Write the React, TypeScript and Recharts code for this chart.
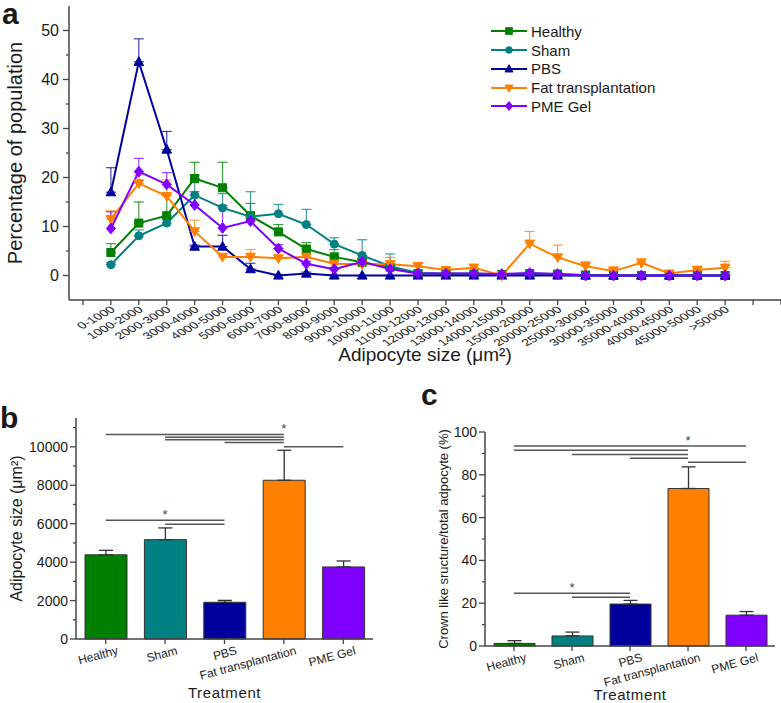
import {
  LineChart,
  Line,
  XAxis,
  YAxis,
  ErrorBar,
  Legend,
  BarChart,
  Bar,
  Cell,
  ReferenceLine,
  ReferenceDot,
  Label,
} from "recharts";

const FONT = "Arial, 'Liberation Sans', sans-serif";
const INK = "#1a1a1a";
const AXIS = "#444";

// panel a: size distribution (percentage of population per size bin)
const sizeBins = [
  "0-1000", "1000-2000", "2000-3000", "3000-4000", "4000-5000", "5000-6000",
  "6000-7000", "7000-8000", "8000-9000", "9000-10000", "10000-11000", "11000-12000",
  "12000-13000", "13000-14000", "14000-15000", "15000-20000", "20000-25000",
  "25000-30000", "30000-35000", "35000-40000", "40000-45000", "45000-50000", ">50000",
];
const healthyPct = [4.7, 10.7, 12.2, 19.8, 17.9, 12.2, 8.9, 5.4, 3.8, 2.7, 1.7, 0.4, 0.3, 0.3, 0.2, 0.4, 0.3, 0.1, 0, 0, 0, 0, 0];
const healthyErr = [1.8, 4.3, 4.2, 3.3, 5.2, 2.5, 1.5, 1.3, 1.5, 0.8, 0.5, 0.3, 0.2, 0.2, 0.2, 0.2, 0.2, 0, 0, 0, 0, 0, 0];
const shamPct = [2.2, 8.1, 10.7, 16.4, 13.8, 12.0, 12.6, 10.4, 6.4, 4.1, 1.9, 0.5, 0.4, 0.4, 0.2, 0.3, 0.1, 0, 0, 0, 0, 0, 0];
const shamErr = [0.4, 1.2, 1.0, 4.1, 2.9, 5.1, 1.9, 3.1, 1.3, 3.2, 2.5, 0.4, 0.3, 0.3, 0.2, 0.2, 0.2, 0, 0, 0, 0, 0, 0];
const pbsPct = [17.0, 43.6, 25.7, 5.9, 5.9, 1.3, 0, 0.4, 0, 0, 0, 0, 0, 0, 0, 0, 0, 0, 0, 0, 0, 0, 0];
const pbsErr = [5.0, 4.7, 3.7, 0.3, 2.3, 1.2, 0.2, 0.3, 0, 0, 0, 0, 0, 0, 0, 0, 0, 0, 0, 0, 0, 0, 0];
const fatPct = [11.5, 18.8, 16.2, 9.0, 3.8, 3.8, 3.5, 3.8, 2.4, 2.3, 2.3, 1.9, 1.1, 1.6, 0, 6.5, 3.7, 1.9, 0.9, 2.6, 0.4, 1.1, 1.6];
const fatErr = [1.7, 1.7, 3.3, 2.3, 0.5, 1.5, 0.6, 0.5, 0.5, 1.0, 1.4, 0.6, 0.5, 0.6, 0, 2.5, 2.5, 0.9, 0.9, 0.8, 0.3, 0.8, 1.3];
const pmePct = [9.6, 21.2, 18.6, 14.4, 9.7, 11.1, 5.5, 2.4, 1.3, 2.8, 1.3, 0.4, 0.4, 0.4, 0.3, 0.5, 0.3, 0, 0, 0, 0, 0, 0];
const pmeErr = [3.4, 2.7, 2.4, 2.7, 4.6, 0.5, 0.8, 0.5, 0.3, 0.5, 0.4, 0.2, 0.2, 0.2, 0.2, 0.2, 0.2, 0, 0, 0, 0, 0, 0];

// panels b and c
const treatments = ["Healthy", "Sham", "PBS", "Fat transplantation", "PME Gel"];
const sizeMean = [4380, 5170, 1910, 8260, 3750];
const sizeSem = [235, 610, 100, 1560, 310];
const crownMean = [1.2, 4.7, 19.6, 73.6, 14.4];
const crownSem = [1.3, 1.8, 1.7, 10.1, 1.7];

const sizeSig = [
  { from: "Healthy", to: "Fat transplantation", y: 10640 },
  { from: "Sham", to: "Fat transplantation", y: 10500 },
  { from: "Sham", to: "Fat transplantation", y: 10370 },
  { from: "PBS", to: "Fat transplantation", y: 10230 },
  { from: "Fat transplantation", to: "PME Gel", y: 10000 },
  { from: "Healthy", to: "PBS", y: 6180 },
  { from: "Sham", to: "PBS", y: 5970 },
];
const sizeStars = [
  { x: "Fat transplantation", y: 10950 },
  { x: "Sham", y: 6500 },
];
const crownSig = [
  { from: "Healthy", to: "PME Gel", y: 93.4 },
  { from: "Healthy", to: "Fat transplantation", y: 91.5 },
  { from: "Sham", to: "Fat transplantation", y: 89.5 },
  { from: "PBS", to: "Fat transplantation", y: 87.7 },
  { from: "Fat transplantation", to: "PME Gel", y: 85.9 },
  { from: "Healthy", to: "PBS", y: 24.7 },
  { from: "Sham", to: "PBS", y: 22.8 },
];
const crownStars = [
  { x: "Fat transplantation", y: 96.3 },
  { x: "Sham", y: 27.2 },
];

const barColors = ["#008000", "#008080", "#00009c", "#ff8000", "#8000ff"];

const SERIES = [
  { key: "healthy", name: "Healthy", color: "#008000", shape: "square", values: healthyPct, errs: healthyErr },
  { key: "sham", name: "Sham", color: "#008080", shape: "circle", values: shamPct, errs: shamErr },
  { key: "pbs", name: "PBS", color: "#00009c", shape: "up", values: pbsPct, errs: pbsErr },
  { key: "fat", name: "Fat transplantation", color: "#ff8000", shape: "down", values: fatPct, errs: fatErr },
  { key: "pme", name: "PME Gel", color: "#8000ff", shape: "diamond", values: pmePct, errs: pmeErr },
];

const distRows = sizeBins.map((bin, i) => {
  const row: Record<string, any> = { pos: i + 1, bin };
  SERIES.forEach((s) => {
    row[s.key] = s.values[i];
    row[s.key + "Err"] = [0, s.errs[i]];
  });
  return row;
});

const sizeRows = treatments.map((name, i) => ({ name, value: sizeMean[i], err: [0, sizeSem[i]] }));
const crownRows = treatments.map((name, i) => ({ name, value: crownMean[i], err: [0, crownSem[i]] }));

function marker(shape: string, cx: number, cy: number, color: string, r: number, key?: any) {
  const c = { fill: color, stroke: color, strokeWidth: 1 };
  if (cx == null || cy == null) return <g key={key} />;
  switch (shape) {
    case "square":
      return <rect key={key} x={cx - r} y={cy - r} width={2 * r} height={2 * r} {...c} />;
    case "circle":
      return <circle key={key} cx={cx} cy={cy} r={r} {...c} />;
    case "up":
      return <polygon key={key} points={`${cx},${cy - r * 1.3} ${cx - r * 1.2},${cy + r * 0.9} ${cx + r * 1.2},${cy + r * 0.9}`} {...c} />;
    case "down":
      return <polygon key={key} points={`${cx},${cy + r * 1.3} ${cx - r * 1.2},${cy - r * 0.9} ${cx + r * 1.2},${cy - r * 0.9}`} {...c} />;
    default:
      return <polygon key={key} points={`${cx},${cy - r * 1.35} ${cx + r * 1.1},${cy} ${cx},${cy + r * 1.35} ${cx - r * 1.1},${cy}`} {...c} />;
  }
}

// y ticks with short minor marks, labels only on every `every`
const yTick = (every: number, fontSize: number, gap: number) => (props: any) => {
  const { x, y, payload } = props;
  const major = payload.value % every === 0;
  return (
    <g>
      <line x1={x - (major ? 6 : 3)} x2={x} y1={y} y2={y} stroke={AXIS} strokeWidth={1.3} />
      {major && (
        <text x={x - gap} y={y} dy="0.36em" textAnchor="end" fontSize={fontSize} fill={INK} fontFamily={FONT}>
          {payload.value}
        </text>
      )}
    </g>
  );
};

// size-bin labels: small, slanted and stretched sideways like the original figure
const binTick = (props: any) => {
  const { x, y, payload } = props;
  const label = sizeBins[payload.value - 1] ?? "";
  const ax = x + 2;
  const ay = y + 8;
  return (
    <g>
      <line x1={x} x2={x} y1={y} y2={y + 5} stroke={AXIS} strokeWidth={1.3} />
      {label && (
        <text x={0} y={0} dy="0.35em" textAnchor="end" transform={`translate(${ax} ${ay}) scale(1.5 1) rotate(-40)`} fontSize={9.5} fill={INK} fontFamily={FONT}>
          {label}
        </text>
      )}
    </g>
  );
};

const treatTick = (props: any) => {
  const { x, y, payload } = props;
  const ax = x + 12;
  const ay = y + 11;
  return (
    <g>
      <line x1={x} x2={x} y1={y} y2={y + 5} stroke={AXIS} strokeWidth={1.3} />
      <text x={ax} y={ay} dy="0.35em" textAnchor="end" transform={`rotate(-15 ${ax} ${ay})`} fontSize={12} fill={INK} fontFamily={FONT}>
        {payload.value}
      </text>
    </g>
  );
};

const vTitle = (text: string, dx: number, fontSize: number) => (props: any) => {
  const vb = props.viewBox || {};
  const cx = (vb.x ?? 0) + dx;
  const cy = (vb.y ?? 0) + (vb.height ?? 0) / 2;
  return (
    <text x={cx} y={cy} transform={`rotate(-90 ${cx} ${cy})`} textAnchor="middle" dominantBaseline="central" fontSize={fontSize} fill={INK} fontFamily={FONT}>
      {text}
    </text>
  );
};

const renderLegend = () => (
  <div style={{ fontFamily: FONT, fontSize: 15, color: INK }}>
    {SERIES.map((s) => (
      <div key={s.key} style={{ display: "flex", alignItems: "center", height: 18.75 }}>
        <svg width={36} height={12}>
          <line x1={0} x2={36} y1={6} y2={6} stroke={s.color} strokeWidth={2} />
          {marker(s.shape, 18, 6, s.color, 3.3)}
        </svg>
        <span style={{ marginLeft: 4 }}>{s.name}</span>
      </div>
    ))}
  </div>
);

const xTicksA = Array.from({ length: 26 }, (_, i) => i);
const yTicksA = [0, 5, 10, 15, 20, 25, 30, 35, 40, 45, 50];
const yTicksB = [0, 1000, 2000, 3000, 4000, 5000, 6000, 7000, 8000, 9000, 10000, 11000];
const yTicksC = [0, 10, 20, 30, 40, 50, 60, 70, 80, 90, 100];

const axisLine = { stroke: AXIS, strokeWidth: 1.5 };

function SigMarks(lines: { from: string; to: string; y: number }[], stars: { x: string; y: number }[]) {
  return [
    ...lines.map((l, i) => (
      <ReferenceLine
        key={`l${i}`}
        segment={[{ x: l.from, y: l.y }, { x: l.to, y: l.y }]}
        stroke="#555"
        strokeWidth={1.5}
      />
    )),
    ...stars.map((s, i) => (
      <ReferenceDot
        key={`s${i}`}
        x={s.x}
        y={s.y}
        r={1}
        fill="none"
        stroke="none"
        label={{ value: "*", position: "center", fontSize: 13, fill: "#444", fontFamily: FONT }}
      />
    )),
  ];
}

export default function App() {
  return (
    <div style={{ position: "absolute", left: 0, top: 0, width: 781, height: 703, background: "#fff", fontFamily: FONT }}>
      <div style={{ position: "absolute", left: 0, top: 0 }}>
        <LineChart width={781} height={365} data={distRows} margin={{ top: 6, right: 0, left: 0, bottom: 0 }}>
          <XAxis
            dataKey="pos"
            type="number"
            domain={[-0.5, 25]}
            ticks={xTicksA}
            interval={0}
            tick={binTick}
            tickLine={false}
            tickSize={0}
            tickMargin={0}
            axisLine={axisLine}
            height={65}
          >
            <Label value="Adipocyte size (μm²)" position="insideBottom" offset={4} fontSize={19} fill={INK} fontFamily={FONT} />
          </XAxis>
          <YAxis
            type="number"
            domain={[-5, 55]}
            ticks={yTicksA}
            interval={0}
            tick={yTick(10, 16, 10)}
            tickLine={false}
            tickSize={0}
            tickMargin={0}
            axisLine={axisLine}
            width={69}
          >
            <Label content={vTitle("Percentage of population", 15, 20)} />
          </YAxis>
          <Legend content={renderLegend} layout="vertical" align="center" verticalAlign="middle" wrapperStyle={{ left: 491, top: 22, width: 200 }} />
          {SERIES.map((s) => (
            <Line
              key={s.key}
              dataKey={s.key}
              name={s.name}
              stroke={s.color}
              strokeWidth={2}
              isAnimationActive={false}
              activeDot={false}
              dot={(p: any) => marker(s.shape, p.cx, p.cy, s.color, 4, p.index)}
            >
              <ErrorBar dataKey={s.key + "Err"} direction="y" width={5} stroke={s.color} strokeOpacity={0.75} strokeWidth={1.2} isAnimationActive={false} />
            </Line>
          ))}
        </LineChart>
      </div>

      <div style={{ position: "absolute", left: 0, top: 360 }}>
        <BarChart width={390} height={343} data={sizeRows} margin={{ top: 58, right: 17, left: 0, bottom: 0 }}>
          <XAxis dataKey="name" interval={0} tick={treatTick} tickLine={false} tickSize={0} tickMargin={0} axisLine={axisLine} height={64}>
            <Label value="Treatment" position="insideBottom" offset={5} fontSize={15} letterSpacing={0.6} fill={INK} fontFamily={FONT} />
          </XAxis>
          <YAxis
            type="number"
            domain={[0, 11500]}
            ticks={yTicksB}
            interval={0}
            tick={yTick(2000, 14, 8)}
            tickLine={false}
            tickSize={0}
            tickMargin={0}
            axisLine={axisLine}
            width={76}
          >
            <Label content={vTitle("Adipocyte size (μm²)", 16, 16)} />
          </YAxis>
          <Bar dataKey="value" barSize={42} stroke="#333" strokeWidth={1} isAnimationActive={false}>
            {sizeRows.map((_, i) => (
              <Cell key={i} fill={barColors[i]} />
            ))}
            <ErrorBar dataKey="err" direction="y" width={7} stroke="#333" strokeWidth={1.3} isAnimationActive={false} />
          </Bar>
          {SigMarks(sizeSig, sizeStars)}
        </BarChart>
      </div>

      <div style={{ position: "absolute", left: 390, top: 360 }}>
        <BarChart width={391} height={343} data={crownRows} margin={{ top: 72, right: 6, left: 0, bottom: 0 }}>
          <XAxis dataKey="name" interval={0} tick={treatTick} tickLine={false} tickSize={0} tickMargin={0} axisLine={axisLine} height={57}>
            <Label value="Treatment" position="insideBottom" offset={3} fontSize={15} letterSpacing={0.6} fill={INK} fontFamily={FONT} />
          </XAxis>
          <YAxis
            type="number"
            domain={[0, 100]}
            ticks={yTicksC}
            interval={0}
            tick={yTick(20, 14, 8)}
            tickLine={false}
            tickSize={0}
            tickMargin={0}
            axisLine={axisLine}
            width={95}
          >
            <Label content={vTitle("Crown like sructure/total adpocyte (%)", 53, 13)} />
          </YAxis>
          <Bar dataKey="value" barSize={41} stroke="#333" strokeWidth={1} isAnimationActive={false}>
            {crownRows.map((_, i) => (
              <Cell key={i} fill={barColors[i]} />
            ))}
            <ErrorBar dataKey="err" direction="y" width={7} stroke="#333" strokeWidth={1.3} isAnimationActive={false} />
          </Bar>
          {SigMarks(crownSig, crownStars)}
        </BarChart>
      </div>

      <svg width={781} height={703} style={{ position: "absolute", left: 0, top: 0, pointerEvents: "none" }}>
        <text x={2} y={24} fontSize={30} fontWeight="bold" fill={INK} fontFamily={FONT}>a</text>
        <text x={0} y={428} fontSize={30} fontWeight="bold" fill={INK} fontFamily={FONT}>b</text>
        <text x={421} y={405} fontSize={30} fontWeight="bold" fill={INK} fontFamily={FONT}>c</text>
      </svg>
    </div>
  );
}
